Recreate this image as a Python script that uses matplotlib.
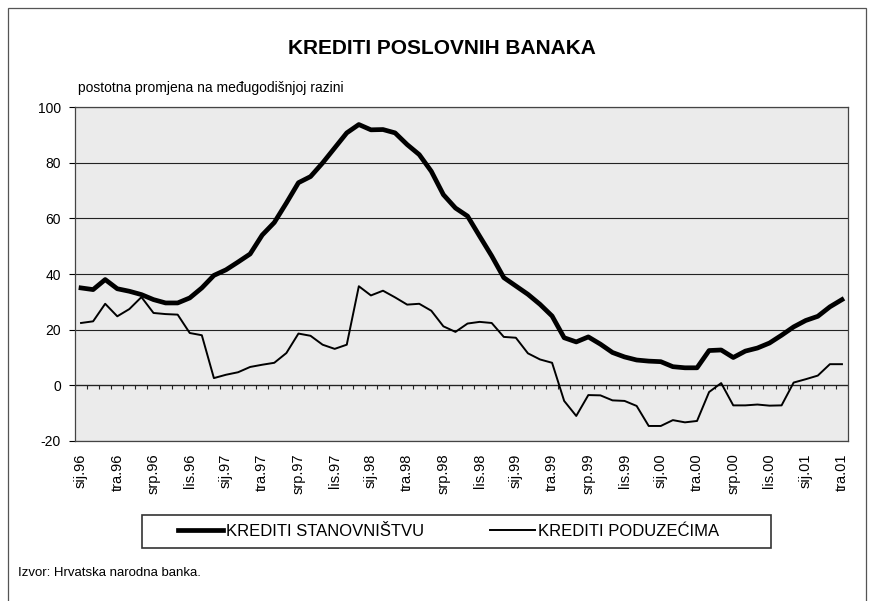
import matplotlib.pyplot as plt
import numpy as np
from matplotlib.patches import Rectangle

plt.rcParams['font.family'] = ['Liberation Sans', 'DejaVu Sans']
plt.rcParams['axes.unicode_minus'] = False

# mjesečni podaci, sij.96 - tra.01 (godišnja stopa promjene, %)
krediti_stanovnistvu = [
    35.0, 34.4, 38.0, 34.7, 33.8, 32.6, 30.8, 29.6, 29.6, 31.4, 35.0, 39.5,
    41.5, 44.3, 47.2, 54.0, 58.5, 65.5, 72.8, 75.0, 79.9, 85.3, 90.7, 93.7,
    91.8, 91.9, 90.7, 86.5, 82.9, 76.9, 68.5, 63.7, 60.8, 53.6, 46.5, 38.7,
    35.7, 32.7, 29.1, 24.9, 17.1, 15.6, 17.4, 14.8, 11.8, 10.2, 9.1, 8.7,
    8.5, 6.7, 6.3, 6.3, 12.5, 12.7, 10.0, 12.3, 13.4, 15.2, 18.0, 21.0,
    23.3, 24.8, 28.2, 30.8,
]
krediti_poduzecima = [
    22.4, 23.0, 29.3, 24.8, 27.4, 31.7, 26.0, 25.6, 25.4, 18.8, 18.0, 2.6,
    3.8, 4.7, 6.6, 7.4, 8.1, 11.6, 18.6, 17.8, 14.6, 13.1, 14.6, 35.6,
    32.3, 34.0, 31.6, 29.0, 29.3, 26.8, 21.2, 19.2, 22.2, 22.8, 22.4, 17.4,
    17.1, 11.5, 9.3, 8.1, -5.6, -11.0, -3.5, -3.6, -5.4, -5.6, -7.4, -14.6,
    -14.6, -12.5, -13.3, -12.8, -2.4, 0.8, -7.2, -7.2, -6.9, -7.3, -7.2, 1.0,
    2.2, 3.5, 7.6, 7.6,
]
oznake_mjeseci = [
    'sij.96', 'tra.96', 'srp.96', 'lis.96', 'sij.97', 'tra.97', 'srp.97', 'lis.97',
    'sij.98', 'tra.98', 'srp.98', 'lis.98', 'sij.99', 'tra.99', 'srp.99', 'lis.99',
    'sij.00', 'tra.00', 'srp.00', 'lis.00', 'sij.01', 'tra.01',
]

W, H = 876, 601
fig = plt.figure(figsize=(W / 100, H / 100), dpi=100)
fig.patch.set_facecolor('white')

# okvir oko cijelog grafikona
fig.patches.append(Rectangle((8 / W, -0.05), 858 / W, 1.05 - 8 / H,
                             transform=fig.transFigure, fill=False,
                             edgecolor='#555555', linewidth=0.9))

ax = fig.add_axes([75 / W, 1 - 441 / H, 773 / W, 334 / H])
ax.set_facecolor('#ebebeb')

x = np.arange(len(krediti_stanovnistvu))
ax.plot(x, krediti_stanovnistvu, color='black', linewidth=3.4,
        solid_joinstyle='round', label='KREDITI STANOVNIŠTVU', zorder=4)
ax.plot(x, krediti_poduzecima, color='black', linewidth=1.4,
        solid_joinstyle='round', label='KREDITI PODUZEĆIMA', zorder=3)

ax.set_xlim(-0.5, len(x) - 0.5)
ax.set_ylim(-20, 100)
ax.set_yticks(np.arange(-20, 101, 20))
ax.yaxis.grid(True, color='#222222', linewidth=0.8)
ax.set_axisbelow(True)
ax.tick_params(axis='y', labelsize=10, length=4, width=0.8, pad=6)

ax.set_xticks(x[::3])
ax.set_xticklabels(oznake_mjeseci, rotation=90, fontsize=10.5)
ax.tick_params(axis='x', length=0, pad=9)

# mjesečne crtice na nultoj liniji
ax.vlines(np.arange(-0.5, len(x)), -1.2, 0, color='#222222', linewidth=0.8, zorder=2)
ax.axhline(0, color='#222222', linewidth=0.9, zorder=2)

for s in ['left', 'right', 'bottom', 'top']:
    ax.spines[s].set_color('#444444')
    ax.spines[s].set_linewidth(0.9)

fig.text(442 / W, 1 - 48 / H, 'KREDITI POSLOVNIH BANAKA', ha='center', va='center',
         fontsize=15, fontweight='bold')
fig.text(78 / W, 1 - 88 / H, 'postotna promjena na međugodišnjoj razini',
         ha='left', va='center', fontsize=10)
fig.text(18 / W, 1 - 573 / H, 'Izvor: Hrvatska narodna banka.',
         ha='left', va='center', fontsize=9.5)

# legenda s okvirom
fig.patches.append(Rectangle((142 / W, 1 - 548 / H), 629 / W, 33 / H,
                             transform=fig.transFigure, fill=False,
                             edgecolor='#333333', linewidth=1.2))
leg = fig.legend(loc='center left', bbox_to_anchor=(163 / W, 1 - 531 / H), ncol=2,
                 fontsize=12, frameon=False, handlelength=2.7,
                 columnspacing=4.0, handletextpad=0.15)

fig.savefig('out.png', dpi=100)
